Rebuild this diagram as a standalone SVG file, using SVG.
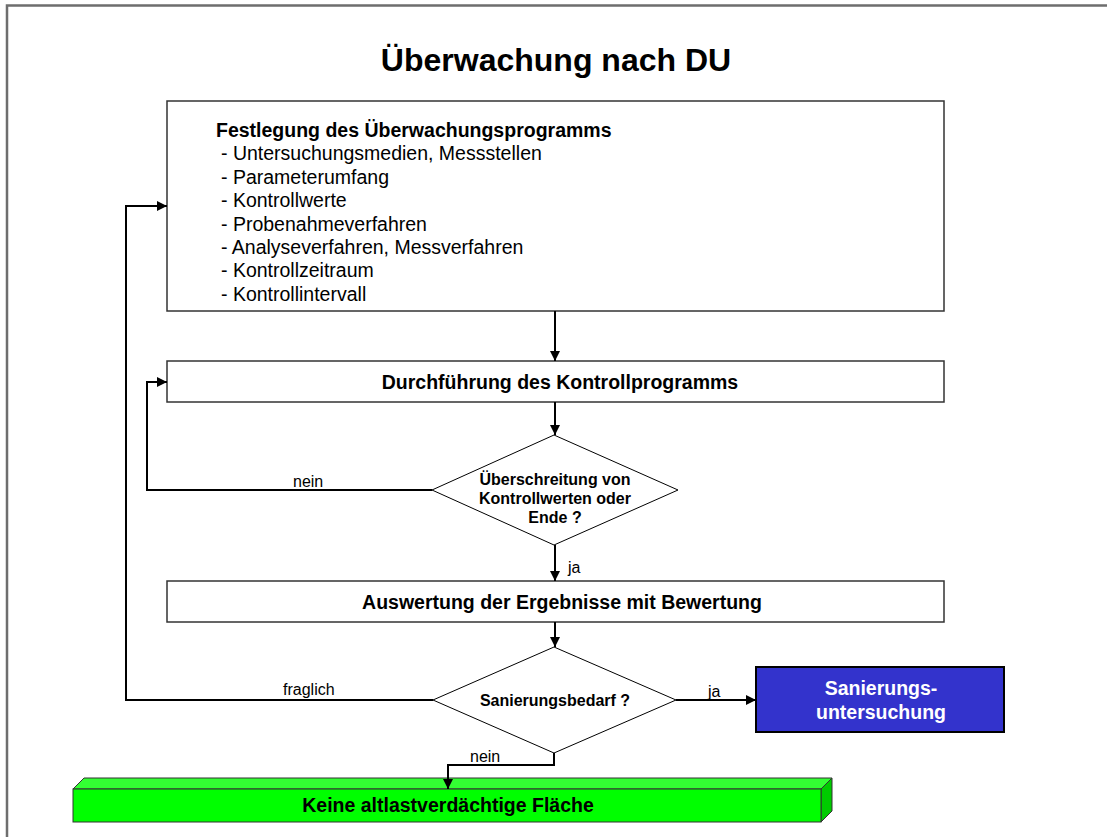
<svg xmlns="http://www.w3.org/2000/svg" width="1107" height="837" viewBox="0 0 1107 837">
  <style>
    text { font-family: "Liberation Sans", Arial, sans-serif; fill: #000; }
    .title { font-size: 32px; font-weight: bold; text-anchor: middle; }
    .head { font-size: 19.5px; font-weight: bold; }
    .item { font-size: 19.5px; }
    .boxlabel { font-size: 19.5px; font-weight: bold; text-anchor: middle; }
    .dlabel { font-size: 16px; font-weight: bold; text-anchor: middle; }
    .edge { font-size: 16px; }
    .white { fill: #fff; }
    .box { fill: #fff; stroke: #333; stroke-width: 1.5; }
    .diamond { fill: #fff; stroke: #000; stroke-width: 1; }
    .conn { fill: none; stroke: #000; stroke-width: 2; }
    .frame { fill: none; stroke: #6e6e6e; stroke-width: 2.5; }
  </style>
  <defs>
    <marker id="arrow" viewBox="0 0 10 10" refX="10" refY="5" markerWidth="5" markerHeight="5.5" markerUnits="strokeWidth" orient="auto">
      <path d="M0,0 L10,5 L0,10 z" fill="#000"/>
    </marker>
  </defs>

  <!-- page frame -->
  <path class="frame" d="M7,837 V5.5 H1107"/>

  <text class="title" x="556" y="71">Überwachung nach DU</text>

  <g id="festlegung">
    <rect class="box" x="167" y="101" width="777" height="210"/>
    <text class="head" x="216" y="137">Festlegung des Überwachungsprogramms</text>
    <text class="item" x="221" y="160.4">- Untersuchungsmedien, Messstellen</text>
    <text class="item" x="221" y="183.8">- Parameterumfang</text>
    <text class="item" x="221" y="207.2">- Kontrollwerte</text>
    <text class="item" x="221" y="230.6">- Probenahmeverfahren</text>
    <text class="item" x="221" y="254">- Analyseverfahren, Messverfahren</text>
    <text class="item" x="221" y="277.4">- Kontrollzeitraum</text>
    <text class="item" x="221" y="300.8">- Kontrollintervall</text>
  </g>

  <g id="durchfuehrung">
    <rect class="box" x="167" y="361" width="777" height="41"/>
    <text class="boxlabel" x="560" y="389">Durchführung des Kontrollprogramms</text>
  </g>

  <g id="ueberschreitung">
    <polygon class="diamond" points="554,435 678,490 554,545 432,490"/>
    <text class="dlabel" x="555" y="485">Überschreitung von</text>
    <text class="dlabel" x="555" y="504">Kontrollwerten oder</text>
    <text class="dlabel" x="555" y="523">Ende ?</text>
  </g>

  <g id="auswertung">
    <rect class="box" x="167" y="581" width="777" height="41"/>
    <text class="boxlabel" x="562" y="609">Auswertung der Ergebnisse mit Bewertung</text>
  </g>

  <g id="sanierungsbedarf">
    <polygon class="diamond" points="554,647 676,700 554,753 433,700"/>
    <text class="dlabel" x="555" y="706">Sanierungsbedarf ?</text>
  </g>

  <g id="sanierungsuntersuchung">
    <rect x="756" y="667" width="248" height="65" fill="#3333cc" stroke="#000" stroke-width="2"/>
    <text class="boxlabel white" x="881" y="695">Sanierungs-</text>
    <text class="boxlabel white" x="881" y="719">untersuchung</text>
  </g>

  <g id="keine-altlast">
    <polygon points="73,789 84,778 832,778 821,789" fill="#33ff33" stroke="#333" stroke-width="1"/>
    <polygon points="821,789 832,778 832,811 821,822" fill="#00cc00" stroke="#333" stroke-width="1"/>
    <rect x="73" y="789" width="748" height="33" fill="#00ff00" stroke="#333" stroke-width="1"/>
    <text class="boxlabel" x="448" y="812">Keine altlastverdächtige Fläche</text>
  </g>

  <g id="connectors">
    <path class="conn" marker-end="url(#arrow)" d="M555,311 V361"/>
    <path class="conn" marker-end="url(#arrow)" d="M555,402 V435"/>
    <path class="conn" marker-end="url(#arrow)" d="M555,545 V581"/>
    <path class="conn" marker-end="url(#arrow)" d="M555,622 V647"/>
    <path class="conn" marker-end="url(#arrow)" d="M432,490 H147 V382 H167"/>
    <path class="conn" marker-end="url(#arrow)" d="M433,700 H126 V206 H167"/>
    <path class="conn" marker-end="url(#arrow)" d="M676,700 H756"/>
    <path class="conn" marker-end="url(#arrow)" d="M554,753 V765 H448 V789"/>
    <text class="edge" x="293" y="487">nein</text>
    <text class="edge" x="568" y="573">ja</text>
    <text class="edge" x="283" y="695">fraglich</text>
    <text class="edge" x="708" y="697">ja</text>
    <text class="edge" x="470" y="762">nein</text>
  </g>
</svg>
